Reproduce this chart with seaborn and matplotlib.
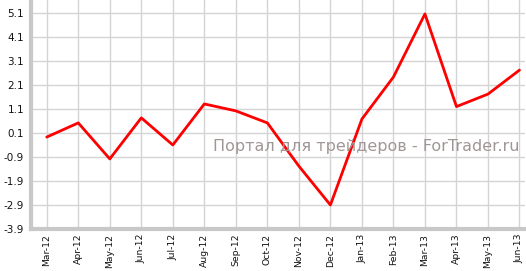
import matplotlib
matplotlib.use("Agg")
import matplotlib.pyplot as plt
import seaborn as sns
import pandas as pd

months = ["Mar-12", "Apr-12", "May-12", "Jun-12", "Jul-12", "Aug-12", "Sep-12", "Oct-12",
          "Nov-12", "Dec-12", "Jan-13", "Feb-13", "Mar-13", "Apr-13", "May-13", "Jun-13"]
values = [-0.07, 0.52, -0.98, 0.73, -0.40, 1.31, 1.02, 0.52,
          -1.28, -2.90, 0.68, 2.43, 5.06, 1.20, 1.72, 2.72]
y_ticks = [5.1, 4.1, 3.1, 2.1, 1.1, 0.1, -0.9, -1.9, -2.9, -3.9]
y_tick_labels = ["5.1", "4.1", "3.1", "2.1", "1.1", "0.1", "-0.9", "-1.9", "-2.9", "-3.9"]
watermark = "Портал для трейдеров - ForTrader.ru"

sns.set_style("white")
plt.rcParams['font.family'] = ['DejaVu Sans']

df = pd.DataFrame({"x": list(range(len(months))), "v": values})

fig = plt.figure(figsize=(5.26, 2.71), dpi=100)
ax = fig.add_axes([31 / 526, 42 / 271, 1 - 31 / 526 - 0.001, 1 - 42 / 271])

ax.set_axisbelow(True)
ax.grid(True, color="#d4d4d4", linewidth=1.0)
sns.lineplot(data=df, x="x", y="v", ax=ax, color="#ff0000", linewidth=2.0)

ax.set_xlim(-0.5, 15.19)
ax.set_ylim(-3.9, 5.64)
ax.set_xticks(range(len(months)))
ax.set_xticklabels(months, rotation=90, fontsize=6.7)
ax.set_yticks(y_ticks)
ax.set_yticklabels(y_tick_labels, fontsize=7.5)
ax.set_xlabel("")
ax.set_ylabel("")

for s in ["top", "right"]:
    ax.spines[s].set_visible(False)
for s in ["left", "bottom"]:
    ax.spines[s].set_color("#c8c8c8")
    ax.spines[s].set_linewidth(3)

ax.tick_params(axis="y", length=4, width=1, color="#b0b0b0", pad=1, labelcolor="#111111")
ax.tick_params(axis="x", length=2, width=1, color="#d4d4d4", pad=1.5, labelcolor="#111111")

ax.text(0.988, 0.36, watermark, transform=ax.transAxes, ha="right", va="center",
        fontsize=11.5, color="#a09696")

fig.savefig("out.png", dpi=100)
